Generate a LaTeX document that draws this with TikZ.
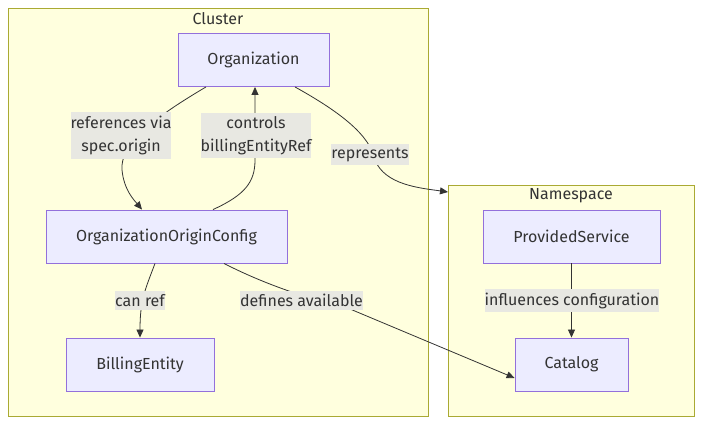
\documentclass[tikz,border=0pt]{standalone}
\usepackage{fontspec}
\setmainfont{Fira Sans}
\usepackage{tikz}
\usetikzlibrary{arrows.meta,positioning,calc}

\definecolor{clusterfill}{HTML}{FFFFDE}
\definecolor{clusterline}{HTML}{AAAA33}
\definecolor{entityfill}{HTML}{ECECFF}
\definecolor{entityline}{HTML}{9370DB}
\definecolor{labelfill}{HTML}{E8E8E2}
\definecolor{ink}{HTML}{333333}

\begin{document}
\begin{tikzpicture}[x=1pt,y=-1pt,
  scope box/.style={draw=clusterline,fill=clusterfill,line width=.9pt},
  scopetitle/.style={font=\fontsize{16}{20}\selectfont,text=ink,inner sep=0pt},
  resource/.style={draw=entityline,fill=entityfill,line width=.9pt,
    minimum height=53pt,inner sep=0pt,text=ink,
    font=\fontsize{16}{20}\selectfont},
  relation/.style={-{Triangle[length=8pt,width=7pt]},draw=ink,line width=.8pt},
  edgetext/.style={fill=labelfill,text=ink,align=center,inner xsep=0pt,
    inner ysep=3.5pt,font=\fontsize{16}{23.5}\selectfont}
]
\useasboundingbox (0,0) rectangle (703,425);

% The two scopes.
\draw[scope box] (8,8) rectangle (428,416);
\node[scopetitle] (clustertitle) at (218,19) {Cluster};
\draw[scope box] (448,185) rectangle (694,416);
\node[scopetitle] (nstitle) at (571,196) {Namespace};
\coordinate (nsedge) at (448,192);

% Resources in the cluster.
\node[resource,minimum width=151pt] (org) at (253.5,60) {Organization};
\node[resource,minimum width=241pt] (originconfig) at (166.5,236.5)
  {OrganizationOriginConfig};
\node[resource,minimum width=148pt] (billing) at (140,364.5) {BillingEntity};

% Resources in the namespace.
\node[resource,minimum width=177pt] (provided) at (571.5,236.5)
  {ProvidedService};
\node[resource,minimum width=113pt] (catalog) at (571.5,364.5) {Catalog};

% Edges, drawn under their labels.
\draw[relation] ([xshift=-47.5pt]org.south)
  .. controls (150,120) and (120,145) .. (122,170)
  .. controls (124,190) and (134,200) .. ([xshift=-24.5pt]originconfig.north);
\draw[relation] ([xshift=46.5pt]originconfig.north)
  .. controls (245,195) and (255,182) .. (255,160) -- ([xshift=1.5pt]org.south);
\draw[relation] ([xshift=41.5pt]org.south)
  .. controls (340,112) and (370,135) .. (375,160)
  .. controls (385,185) and (420,188) .. (nsedge);
\draw[relation] ([xshift=-11.5pt]originconfig.south)
  .. controls (145,290) and (140,300) .. (billing.north);
\draw[relation] ([xshift=57.5pt]originconfig.south)
  .. controls (262,283) and (305,298) .. (350,309)
  -- ([yshift=-13.5pt]catalog.west);
\draw[relation] (provided) -- (catalog);

\node[edgetext] (refvia) at (121,135.5) {references via\\spec.origin};
\node[edgetext] (controls) at (256,135.5) {controls\\billingEntityRef};
\node[edgetext] (represents) at (370,154.5) {represents};
\node[edgetext] (canref) at (140,300.5) {can ref};
\node[edgetext] (defines) at (301.5,300.5) {defines available};
\node[edgetext] (influences) at (572,300.5) {influences configuration};
\end{tikzpicture}
\end{document}
